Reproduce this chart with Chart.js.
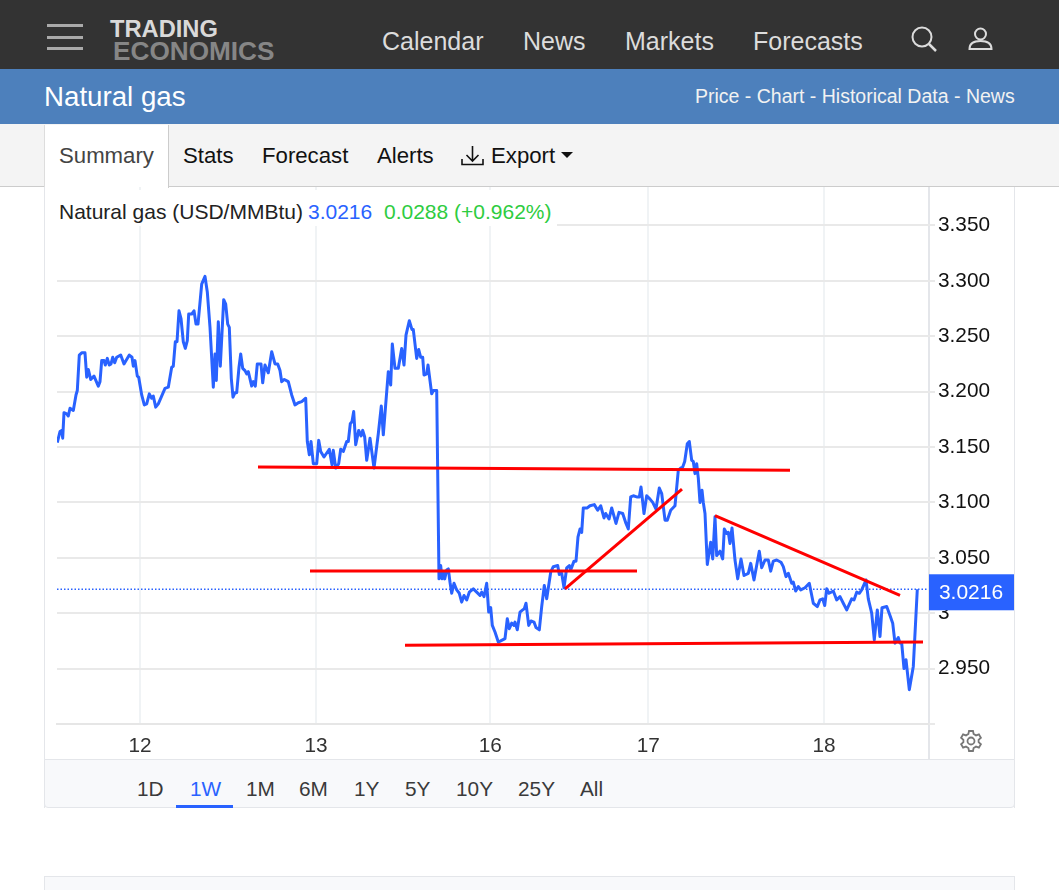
<!DOCTYPE html>
<html>
<head>
<meta charset="utf-8">
<title>Natural gas</title>
<script src="https://cdn.jsdelivr.net/npm/chart.js@4"></script>
<style>
  html, body { margin: 0; padding: 0; background: #fff; }
  body { position: relative; width: 1059px; height: 890px; overflow: hidden; font-family: "Liberation Sans", Arial, sans-serif; }
  .box { position: absolute; }
  .t { position: absolute; white-space: nowrap; line-height: 1; }
  .nav { font-size: 25px; top: 29px; color: #dcdcdc; }
  .tab { font-size: 22.2px; top: 145px; color: #111; }
  .range { font-size: 20.8px; top: 779px; color: #3a3a3a; }
  canvas { position: absolute; left: 45px; top: 187px; }
</style>
</head>
<body>
  <!-- top bars -->
  <div class="box" style="left:0;top:0;width:1059px;height:69px;background:#333"></div>
  <div class="box" style="left:47px;top:24px;width:36px;height:3px;background:#aaa"></div>
  <div class="box" style="left:47px;top:36px;width:36px;height:3px;background:#aaa"></div>
  <div class="box" style="left:47px;top:47px;width:36px;height:3px;background:#aaa"></div>
  <div class="t" style="left:110px;top:18px;font-size:23.7px;font-weight:bold;color:#d9d9d9">TRADING</div>
  <div class="t" style="left:113px;top:38px;font-size:26.2px;font-weight:bold;color:#868686">ECONOMICS</div>
  <div class="t nav" style="left:382px">Calendar</div>
  <div class="t nav" style="left:523px">News</div>
  <div class="t nav" style="left:625px">Markets</div>
  <div class="t nav" style="left:753px">Forecasts</div>
  <svg class="box" style="left:910px;top:26px" width="28" height="26" fill="none" stroke="#dcdcdc" stroke-width="2">
    <circle cx="12" cy="11" r="9.5"/><path d="M19 18l7 7" stroke-width="2.5"/>
  </svg>
  <svg class="box" style="left:967px;top:26px" width="28" height="26" fill="none" stroke="#dcdcdc" stroke-width="2">
    <circle cx="13.5" cy="8" r="5.5"/><path d="M2.5 23c0-5 4-8 11-8s11 3 11 8z"/>
  </svg>

  <div class="box" style="left:0;top:69px;width:1059px;height:55px;background:#4d80bc"></div>
  <div class="t" style="left:44px;top:82.5px;font-size:27.7px;color:#fff">Natural gas</div>
  <div class="t" style="left:695px;top:86.5px;font-size:19.5px;color:#f2f2f2">Price - Chart - Historical Data - News</div>

  <div class="box" style="left:0;top:124px;width:1059px;height:62px;background:#f4f4f4;border-bottom:1px solid #ccc"></div>
  <div class="box" style="left:44px;top:125px;width:123px;height:63px;background:#fff;border-left:1px solid #ddd;border-right:1px solid #ccc"></div>
  <div class="t tab" style="left:59px;color:#444">Summary</div>
  <div class="t tab" style="left:183px">Stats</div>
  <div class="t tab" style="left:262px">Forecast</div>
  <div class="t tab" style="left:377px">Alerts</div>
  <svg class="box" style="left:460px;top:144px" width="25" height="24" fill="none" stroke="#111" stroke-width="1.6">
    <path d="M12.5 2v15M6.5 11l6 6 6-6M2 15v5.5h21V15"/>
  </svg>
  <div class="t tab" style="left:491px">Export</div>
  <svg class="box" style="left:561px;top:152px" width="12" height="6"><path d="M0 0h12L6 6z" fill="#111"/></svg>

  <!-- chart panel -->
  <div class="box" style="left:44px;top:187px;width:1px;height:621px;background:#e4e6ea"></div>
  <div class="box" style="left:1014px;top:187px;width:1px;height:621px;background:#e4e6ea"></div>
  <div class="box" style="left:928px;top:187px;width:2px;height:572px;background:#e4e6ea"></div>
  <canvas id="chart" width="969" height="571"></canvas>
  <div class="box" style="left:54px;top:190px;width:503px;height:36px;background:#fff"></div>
  <div class="t" style="left:59px;top:201px;font-size:21px;color:#222">Natural gas (USD/MMBtu)</div>
  <div class="t" style="left:308px;top:201px;font-size:21px;color:#2962ff">3.0216</div>
  <div class="t" style="left:384px;top:201px;font-size:21px;color:#2ecc40">0.0288 (+0.962%)</div>
  <svg class="box" style="left:959px;top:729px" width="24" height="24" viewBox="0 0 24 24" fill="none" stroke="#777" stroke-width="1.8">
    <circle cx="12" cy="12" r="3.5"/>
    <path d="M10 2h4l.6 3 2.4 1.4 2.9-1 2 3.4-2.3 2v2.4l2.3 2-2 3.4-2.9-1-2.4 1.4-.6 3h-4l-.6-3L7 17.6l-2.9 1-2-3.4 2.3-2v-2.4l-2.3-2 2-3.4 2.9 1L9.4 5z"/>
  </svg>

  <!-- range selector -->
  <div class="box" style="left:44px;top:759px;width:971px;height:49px;background:#f8f9fb;border:1px solid #e4e6ea;border-radius:0 0 4px 4px;box-sizing:border-box"></div>
  <div class="t range" style="left:137px">1D</div>
  <div class="t range" style="left:190px;color:#2962ff">1W</div>
  <div class="t range" style="left:246px">1M</div>
  <div class="t range" style="left:299px">6M</div>
  <div class="t range" style="left:354px">1Y</div>
  <div class="t range" style="left:405px">5Y</div>
  <div class="t range" style="left:456px">10Y</div>
  <div class="t range" style="left:518px">25Y</div>
  <div class="t range" style="left:580px">All</div>
  <div class="box" style="left:176px;top:805px;width:57px;height:3px;background:#2962ff"></div>
  <div class="box" style="left:44px;top:876px;width:969px;height:14px;background:#f8f9fb;border:1px solid #e4e6ea"></div>

<script>
// price series, bars = position along the trading axis
const bars = [
  0.3, 3, 4.7, 5.7, 7, 9.7, 11.3, 13, 16.3, 19, 20.3, 22.3, 24.7, 28, 29.7, 31.3, 33.7, 37, 41.3, 43,
  44.7, 47, 48.3, 50.3, 52.3, 54, 55.7, 57.7, 59.7, 63.7, 67, 72.3, 75, 76.3, 78, 80.3, 81.7, 84.7, 87.3, 89.7,
  92.3, 94.7, 96.3, 98.7, 101.3, 108, 111.3, 114.7, 116.3, 118.3, 120, 122, 124, 126.3, 128.3, 130.3, 131.7, 134.7, 137, 139,
  141, 144.7, 148, 150.3, 153, 156.3, 158, 159.3, 161.3, 163.3, 166.7, 168.7, 170.7, 172.3, 174.3, 176, 178, 179.7, 182, 183.7,
  185.7, 188, 189.7, 191.3, 194.7, 196.3, 198.3, 200.3, 204, 205.7, 208, 211.3, 214.7, 218, 220.7, 223, 224.7, 227.3, 231.3, 234.7,
  238, 241.3, 244.7, 248.7, 250.3, 252.3, 254, 256.3, 259.7, 261.7, 263.7, 267, 272.3, 275, 276.3, 278.7, 281.7, 283.7, 286.3, 289.7,
  291.3, 293.3, 295, 296.7, 298.7, 301.7, 304, 305.7, 307.7, 309.7, 313, 317, 321.3, 324.3, 326.3, 331.3, 333.7, 335.3, 338, 341.3,
  344.7, 347, 349, 352.3, 355, 356.3, 359.7, 361.7, 363.7, 365.7, 367, 369.7, 371, 374.7, 376.3, 379.7,
  382, 383.7, 385, 386.3, 387.7, 389.7, 391.3, 393, 394.7, 397, 399.7, 402.3, 404.7, 407, 409.7, 412.3, 416.3, 419.7, 423, 424.7,
  427, 429.7, 431.7, 433.7, 435.3, 438, 441.3, 443.7, 448, 450.3, 452.3, 454.7, 457, 458, 460.3, 463, 465.7, 467.3, 469, 471.7,
  474, 477, 479, 482.3, 484.7, 487.3, 489.7, 493.7, 496.3, 500.7, 502.3, 504.7, 507, 509.7, 512.3, 513.7, 517, 519, 521, 523,
  524.7, 526.3, 530.3, 533, 537.3, 540.7, 543.7, 547, 548.7, 552, 554.7, 559, 562, 565.7, 569, 571.3, 573.7, 576.3, 579.7, 582.3,
  584, 587, 589.7, 593, 595.7, 599, 602.3, 604.7, 608, 610.3, 613.7, 618, 621.3, 623.7,
  625.7, 627.7, 630.3, 632.3, 634.7, 636.3, 638, 639.7, 641.3, 643, 645, 646.3, 648, 650.3, 653.7, 655.7, 658, 659.7, 663, 665.7,
  667.3, 669.7, 671.3, 673, 675, 678, 680.7, 684, 687, 691.3, 693.7, 697, 702.3, 704.7, 708, 711.3, 713.7, 716.3, 719.7, 724,
  726.3, 729, 731.3, 734.7, 736.3, 738.7, 741.3, 743.7, 748, 752.3, 756.3, 760.3, 763, 765.7, 767.7, 769.7, 772, 776.3, 779.7, 783,
  786.3, 789.7, 794.7, 797, 799.7, 802.3, 804.7, 809, 811.3, 814.7, 817.3, 820.3, 823, 825, 829.7, 833, 835.7, 838, 841.3, 843,
  844.7, 847, 849, 852.3, 856.3, 860.3
];
const prices = [
  3.154, 3.164, 3.165, 3.158, 3.181, 3.180, 3.178, 3.185, 3.183, 3.197, 3.201, 3.233, 3.235, 3.235, 3.213, 3.220, 3.211, 3.214, 3.205, 3.209,
  3.228, 3.228, 3.224, 3.230, 3.224, 3.225, 3.231, 3.226, 3.231, 3.233, 3.225, 3.233, 3.231, 3.223, 3.228, 3.214, 3.213, 3.197, 3.188, 3.189,
  3.198, 3.194, 3.196, 3.186, 3.189, 3.203, 3.204, 3.222, 3.223, 3.245, 3.245, 3.273, 3.266, 3.245, 3.239, 3.246, 3.270, 3.270, 3.273, 3.261,
  3.261, 3.297, 3.304, 3.290, 3.258, 3.204, 3.234, 3.210, 3.263, 3.223, 3.283, 3.279, 3.261, 3.258, 3.212, 3.195, 3.199, 3.199, 3.222, 3.234,
  3.221, 3.219, 3.216, 3.218, 3.205, 3.209, 3.205, 3.225, 3.225, 3.208, 3.224, 3.217, 3.236, 3.225, 3.225, 3.219, 3.209, 3.211, 3.209, 3.197,
  3.188, 3.190, 3.191, 3.194, 3.155, 3.143, 3.155, 3.135, 3.135, 3.156, 3.146, 3.141, 3.148, 3.134, 3.147, 3.131, 3.135, 3.148, 3.146, 3.155,
  3.155, 3.171, 3.173, 3.182, 3.152, 3.165, 3.160, 3.165, 3.159, 3.138, 3.158, 3.131, 3.162, 3.187, 3.161, 3.218, 3.206, 3.243, 3.221, 3.221,
  3.239, 3.224, 3.251, 3.264, 3.256, 3.256, 3.230, 3.238, 3.231, 3.231, 3.215, 3.216, 3.224, 3.198, 3.201, 3.201,
  3.031, 3.043, 3.031, 3.037, 3.031, 3.039, 3.040, 3.028, 3.018, 3.027, 3.021, 3.018, 3.010, 3.016, 3.012, 3.019, 3.022, 3.019, 3.016, 3.019,
  3.015, 3.027, 3.001, 3.005, 2.989, 2.983, 2.974, 2.975, 2.977, 2.995, 2.986, 2.991, 2.989, 2.992, 2.985, 3.001, 3.003, 3.004, 3.009, 2.989,
  2.993, 2.992, 2.987, 2.985, 3.006, 3.025, 3.013, 3.037, 3.042, 3.043, 3.035, 3.036, 3.023, 3.041, 3.043, 3.039, 3.047, 3.047, 3.069, 3.076,
  3.073, 3.095, 3.095, 3.097, 3.098, 3.093, 3.097, 3.086, 3.090, 3.085, 3.095, 3.081, 3.091, 3.090, 3.081, 3.076, 3.105, 3.106, 3.105, 3.105,
  3.114, 3.090, 3.106, 3.103, 3.100, 3.094, 3.113, 3.108, 3.084, 3.084, 3.093, 3.097, 3.129, 3.131,
  3.132, 3.137, 3.153, 3.155, 3.138, 3.137, 3.126, 3.135, 3.122, 3.100, 3.111, 3.100, 3.090, 3.044, 3.064, 3.049, 3.087, 3.052, 3.056, 3.049,
  3.076, 3.072, 3.073, 3.063, 3.077, 3.048, 3.031, 3.049, 3.034, 3.036, 3.045, 3.030, 3.056, 3.041, 3.048, 3.048, 3.038, 3.047, 3.048, 3.046,
  3.042, 3.033, 3.036, 3.027, 3.028, 3.020, 3.024, 3.021, 3.023, 3.027, 3.009, 3.006, 3.012, 3.013, 3.007, 3.022, 3.018, 3.020, 3.012, 3.015,
  3.009, 3.003, 3.013, 3.012, 3.019, 3.018, 3.021, 3.030, 3.013, 3.000, 2.976, 3.003, 2.979, 3.005, 3.006, 2.998, 2.991, 2.973, 2.978, 2.973,
  2.973, 2.950, 2.958, 2.931, 2.952, 3.0216
];

const lastPrice = 3.0216;
const xTickBars = [83, 259, 433.3, 591.3, 767];
const xTickLabels = ['12', '13', '16', '17', '18'];
const yTicks = [2.9, 2.95, 3, 3.05, 3.1, 3.15, 3.2, 3.25, 3.3, 3.35];
const yMin = 2.9;
const yMax = 3.3847;
const xMax = 871;

// hand drawn trend lines: [bar, price] at both ends
const trendTop = [[201, 3.132], [733, 3.129]];
const trendMiddle = [[253, 3.038], [580, 3.038]];
const trendBottom = [[348, 2.971], [866, 2.974]];
const trendRising = [[508, 3.022], [625, 3.112]];
const trendFalling = [[658, 3.088], [843, 3.016]];

const BLUE = '#2962ff';
const RED = '#ff0000';
const FONT = '"Liberation Sans", Arial, sans-serif';

const trendDataset = (pts) => ({
  data: pts.map(p => ({ x: p[0], y: p[1] })),
  borderColor: RED,
  borderWidth: 3,
  pointRadius: 0,
  order: 0
});

// price tag sitting on the y axis
const lastPriceTag = {
  id: 'lastPriceTag',
  afterDraw(chart) {
    const ctx = chart.ctx;
    const y = chart.scales.y.getPixelForValue(lastPrice);
    ctx.save();
    ctx.fillStyle = '#2962ff';
    ctx.fillRect(chart.chartArea.right + 1, y - 15, 85, 36);
    ctx.fillStyle = '#fff';
    ctx.font = '21px ' + FONT;
    ctx.textAlign = 'center';
    ctx.textBaseline = 'middle';
    ctx.fillText(lastPrice.toFixed(4), chart.chartArea.right + 43, y + 4);
    ctx.restore();
  }
};

new Chart(document.getElementById('chart').getContext('2d'), {
  type: 'line',
  data: {
    datasets: [
      {
        data: bars.map((b, i) => ({ x: b, y: prices[i] })),
        borderColor: BLUE,
        borderWidth: 3,
        borderJoinStyle: 'round',
        pointRadius: 0,
        tension: 0,
        order: 1
      },
      {
        data: [{ x: 0, y: lastPrice }, { x: xMax, y: lastPrice }],
        borderColor: BLUE,
        borderWidth: 1.4,
        borderDash: [1.5, 2],
        pointRadius: 0,
        order: 2
      },
      trendDataset(trendTop),
      trendDataset(trendMiddle),
      trendDataset(trendBottom),
      trendDataset(trendRising),
      trendDataset(trendFalling)
    ]
  },
  options: {
    responsive: false,
    animation: false,
    layout: { padding: { left: 12, top: 0, right: 0, bottom: 0 } },
    plugins: { legend: { display: false }, tooltip: { enabled: false } },
    scales: {
      x: {
        type: 'linear',
        min: 0,
        max: xMax,
        afterBuildTicks: scale => { scale.ticks = xTickBars.map(v => ({ value: v })); },
        afterFit: scale => { scale.height = 34; },
        grid: { color: '#f0f3f5', lineWidth: 2, drawTicks: false },
        border: { color: '#e6e6e6', width: 2 },
        ticks: {
          color: '#333',
          font: { size: 20.8, family: FONT },
          padding: 10,
          maxRotation: 0,
          autoSkip: false,
          callback: (v, i) => xTickLabels[i]
        }
      },
      y: {
        position: 'right',
        min: yMin,
        max: yMax,
        afterBuildTicks: scale => { scale.ticks = yTicks.map(v => ({ value: v })); },
        afterFit: scale => {
          scale.width = 86;
          // the top label is not at the edge, no room needed for it
          scale.paddingTop = 0;
          scale.paddingBottom = 0;
        },
        grid: { color: '#e9e9e9', lineWidth: 2, tickLength: 7 },
        border: { display: false },
        ticks: {
          color: '#111',
          font: { size: 20.8, family: FONT },
          padding: 3,
          autoSkip: false,
          callback: v => v === 2.9 ? '' : v === 3 ? '3' : v.toFixed(3)
        }
      }
    }
  },
  plugins: [lastPriceTag]
});
</script>
</body>
</html>
